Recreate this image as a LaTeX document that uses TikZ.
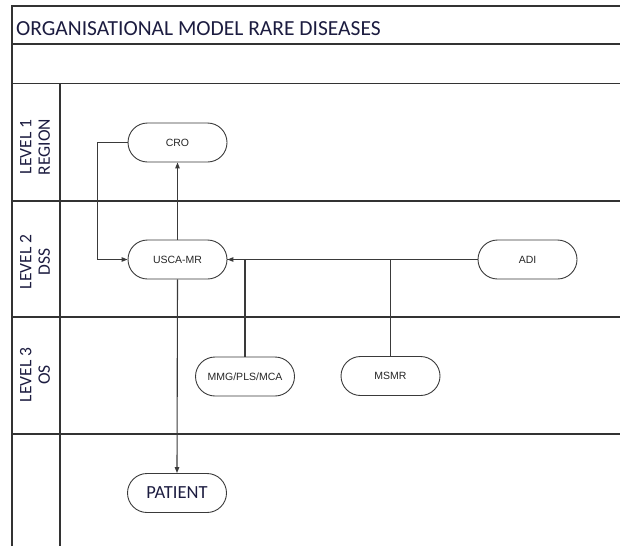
\documentclass[tikz,border=0pt]{standalone}
\usepackage{fontspec}
\setmainfont{Carlito}
\newfontfamily\boxfont{Liberation Sans}
\usetikzlibrary{shapes.misc,arrows.meta}
\definecolor{frameline}{HTML}{333333}
\definecolor{flowline}{HTML}{3A3A3A}
\definecolor{inktext}{HTML}{1C1C40}
\tikzset{
  frame/.style={draw=frameline, line width=1.3pt},
  lanelabel/.style={rotate=90, align=center, text=inktext,
    font=\fontsize{17.5}{18.5}\selectfont, inner sep=0pt},
  proc/.style={rounded rectangle, draw=flowline, line width=0.9pt,
    minimum width=99pt, minimum height=39pt, inner sep=0pt,
    font=\boxfont\fontsize{10.5}{12}\selectfont, text=black!85},
  bigproc/.style={proc, font=\fontsize{18.5}{20}\selectfont, text=inktext},
  flow/.style={draw=flowline, line width=1.1pt},
  arr/.style={flow, -{Triangle[length=6pt,width=4.5pt]}}
}
\begin{document}
\begin{tikzpicture}[x=1pt,y=-1pt]
\useasboundingbox (0,0) rectangle (620,546);
% swimlane frame
\draw[frame] (12,546) -- (12,6) -- (620,6);
\draw[frame] (12,44) -- (620,44);
\draw[frame] (12,83.5) -- (620,83.5);
\draw[frame] (60,83.5) -- (60,546);
\draw[frame] (12,201) -- (620,201);
\draw[frame] (12,317) -- (620,317);
\draw[frame] (12,434) -- (620,434);
% heading
\node[anchor=base west, inner sep=0pt, text=inktext,
  font=\fontsize{21.5}{24}\selectfont] (title) at (16,35.5) {ORGANISATIONAL MODEL RARE DISEASES};
% lane labels
\node[lanelabel] (l1) at (35,147) {LEVEL 1\\REGION};
\node[lanelabel] (l2) at (35,262) {LEVEL 2\\DSS};
\node[lanelabel] (l3) at (35,375) {LEVEL 3\\OS};
% process boxes
\node[proc] (cro) at (177.5,142.5) {CRO};
\node[proc] (usca) at (177.5,259.5) {USCA-MR};
\node[proc] (adi) at (527.5,259.5) {ADI};
\node[proc] (mmg) at (245,376.5) {MMG/PLS/MCA};
\node[proc] (msmr) at (390.5,376) {MSMR};
\node[bigproc] (patient) at (177,493) {PATIENT};
% connectors
\draw[arr] (usca.north) -- (cro.south);
\draw[arr] (cro.west) -- ++(-30,0) |- (usca.west);
\draw[flow] (mmg.north) |- (usca.east);
\draw[flow] (msmr.north) |- (usca.east);
\draw[arr] (adi.west) -- (usca.east);
\draw[arr] (usca.south) -- (patient.north);
\end{tikzpicture}
\end{document}
